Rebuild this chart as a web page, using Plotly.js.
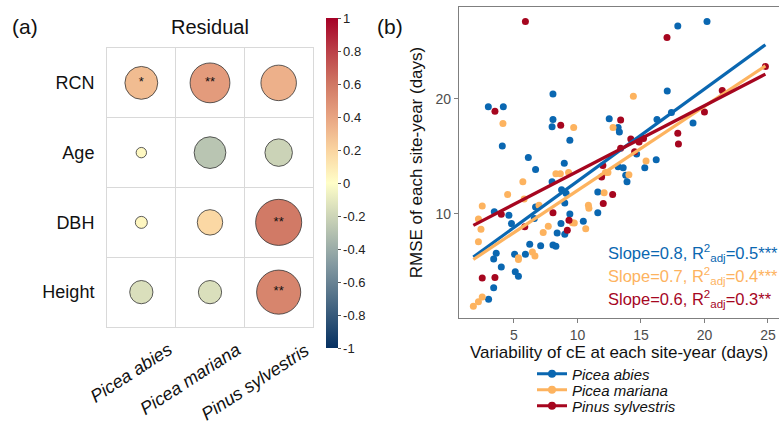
<!DOCTYPE html>
<html>
<head>
<meta charset="utf-8">
<script src="https://cdn.plot.ly/plotly-3.0.1.min.js"></script>
<style>html,body{margin:0;padding:0;background:#fff;}#chart{width:779px;height:424px;}</style>
</head>
<body>
<div id="chart"></div>
<script>
// ---------- Panel (a) data ----------
const rowLabels = ['RCN', 'Age', 'DBH', 'Height'];
const species = ['Picea abies', 'Picea mariana', 'Pinus sylvestris'];
const corrRCN    = [0.30, 0.44, 0.35];
const corrAge    = [0.03, -0.28, -0.21];
const corrDBH    = [0.04, 0.18, 0.59];
const corrHeight = [-0.15, -0.15, 0.54];
const sigRCN    = ['*', '**', ''];
const sigAge    = ['', '', ''];
const sigDBH    = ['', '', '**'];
const sigHeight = ['', '', '**'];
const colorbarTicks = [-1, -0.8, -0.6, -0.4, -0.2, 0, 0.2, 0.4, 0.6, 0.8, 1];

// ---------- Panel (b) data ----------
const abiesX = [2.98, 4.16, 4.08, 8.07, 8.07, 8.0, 9.4, 6.13, 6.7, 8.96, 12.5, 13.2, 13.3, 16.26, 17.4, 17.07, 17.9, 20.2, 19.1, 14.66, 16.2, 15.3, 13.2, 13.6, 13.8, 13.9, 11.6, 11.6, 10.46, 9.0, 9.4, 9.0, 8.0, 8.75, 8.7, 8.4, 8.07, 8.3, 7.1, 6.24, 5.9, 5.05, 6.7, 6.6, 4.8, 4.6, 3.45, 3.6, 3.4, 4.0, 5.1, 5.35, 3.4, 3.0, 9.1];
const abiesY = [19.3, 19.3, 15.9, 20.4, 18.2, 17.57, 16.4, 14.9, 13.85, 14.4, 18.25, 17.5, 17.1, 18.2, 18.8, 20.67, 26.3, 26.7, 17.9, 15.2, 14.7, 14.0, 14.1, 14.0, 13.35, 12.8, 11.9, 10.1, 9.37, 10.95, 10.0, 8.24, 12.8, 12.1, 9.17, 8.35, 7.3, 7.2, 7.25, 7.37, 6.5, 6.5, 10.6, 9.6, 9.17, 9.9, 10.2, 6.6, 6.1, 5.4, 5.0, 4.6, 3.6, 2.6, 11.8];
const marianaX = [4.13, 9.7, 12.8, 14.4, 15.4, 14.05, 12.2, 12.4, 12.1, 10.86, 10.9, 10.65, 9.6, 9.75, 8.3, 8.65, 9.3, 5.7, 4.5, 5.8, 6.97, 7.7, 7.3, 6.45, 6.65, 5.35, 5.35, 2.5, 2.2, 2.4, 2.2, 2.5, 2.2, 1.8];
const marianaY = [17.85, 17.5, 17.5, 20.2, 14.6, 13.4, 13.6, 13.6, 11.85, 10.75, 10.5, 8.73, 9.25, 9.22, 13.5, 13.5, 13.6, 12.8, 11.7, 11.3, 10.75, 8.93, 8.4, 6.7, 6.35, 6.2, 6.05, 10.7, 9.57, 8.67, 7.6, 2.8, 2.4, 2.0];
const sylvestrisX = [5.9, 17.05, 24.8, 21.4, 20.0, 17.9, 17.95, 3.5, 8.68, 13.4, 14.2, 14.85, 15.2, 14.5, 13.4, 12.0, 11.9, 12.77, 12.03, 9.33, 9.2, 8.07, 5.85, 4.0, 2.5, 3.5];
const sylvestrisY = [26.7, 25.3, 22.8, 20.7, 18.85, 17.0, 16.07, 18.9, 17.7, 18.15, 16.5, 16.25, 16.55, 15.4, 15.7, 14.2, 13.2, 11.7, 10.9, 9.45, 8.6, 10.1, 8.9, 9.97, 4.45, 4.5];
const fitSlope = [0.8, 0.73, 0.57];
const fitIntercept = [4.83, 4.74, 7.99];
const statSlope = ['0.8', '0.7', '0.6'];
const statR2 = ['0.5', '0.4', '0.3'];
const statSig = ['***', '***', '**'];
const xTicks = [5, 10, 15, 20, 25];
const yTicks = [10, 20];

// ---------- styling ----------
const W = 779, H = 424;
const FONT = 'Liberation Sans, Arial, sans-serif';
const speciesColors = ['#0A67B1', '#FDB35F', '#A6061F'];
const px = v => v / W;
const py = v => 1 - v / H;

const corrRows = [corrRCN, corrAge, corrDBH, corrHeight];
const sigRows = [sigRCN, sigAge, sigDBH, sigHeight];
const cx = [], cy = [], cv = [], cs = [];
const tx = [], ty = [], tt = [];
rowLabels.forEach((r, i) => species.forEach((s, j) => {
  cx.push(s); cy.push(r); cv.push(corrRows[i][j]);
  cs.push(60 * Math.sqrt(Math.abs(corrRows[i][j])));
  if (sigRows[i][j]) { tx.push(s); ty.push(r); tt.push(sigRows[i][j]); }
}));

const corrScale = [
  [0, '#053061'], [0.25, '#8298A0'], [0.5, '#FFFEC8'],
  [0.6, '#FAD4A0'], [0.7, '#E8A482'], [0.8, '#D07864'], [0.9, '#BB4048'], [1, '#A50026']
];

const traces = [];
traces.push({
  type: 'scatter', mode: 'markers', x: cx, y: cy, xaxis: 'x2', yaxis: 'y2',
  showlegend: false, hoverinfo: 'skip', cliponaxis: false,
  marker: {
    size: cs, color: cv, cmin: -1, cmax: 1, colorscale: corrScale, opacity: 1,
    line: {color: '#333333', width: 0.8},
    showscale: true,
    colorbar: {
      x: px(326), xanchor: 'left', xpad: 0, y: py(18), yanchor: 'top', ypad: 0,
      len: 330, lenmode: 'pixels', thickness: 12, thicknessmode: 'pixels',
      tickvals: colorbarTicks, ticktext: colorbarTicks.map(String),
      ticks: 'outside', ticklen: 3, tickcolor: '#555', outlinewidth: 0,
      tickfont: {family: FONT, size: 13, color: '#222'}
    }
  }
});
traces.push({
  type: 'scatter', mode: 'text', x: tx, y: ty, text: tt, xaxis: 'x2', yaxis: 'y2',
  showlegend: false, hoverinfo: 'skip', textposition: 'middle center',
  textfont: {family: FONT, size: 13, color: '#111'}
});

const allX = abiesX.concat(marianaX, sylvestrisX);
const xMin = Math.min(...allX), xMax = Math.max(...allX);
const sets = [[abiesX, abiesY], [marianaX, marianaY], [sylvestrisX, sylvestrisY]];
sets.forEach((d, k) => {
  traces.push({
    type: 'scatter', mode: 'markers', x: d[0], y: d[1], showlegend: false, hoverinfo: 'skip',
    marker: {size: 7, color: speciesColors[k]}
  });
});
sets.forEach((d, k) => {
  traces.push({
    type: 'scatter', mode: 'lines', x: [xMin, xMax],
    y: [fitIntercept[k] + fitSlope[k] * xMin, fitIntercept[k] + fitSlope[k] * xMax],
    showlegend: false, hoverinfo: 'skip',
    line: {color: speciesColors[k], width: 3.2}
  });
});
const legendIds = ['legend', 'legend2', 'legend3'];
species.forEach((s, k) => {
  traces.push({
    type: 'scatter', mode: 'lines+markers', x: [null], y: [null], name: s,
    legend: legendIds[k], showlegend: true,
    line: {color: speciesColors[k], width: 3.2}, marker: {size: 8, color: speciesColors[k]}
  });
});

const legendBase = {
  xanchor: 'left', yanchor: 'middle', bgcolor: 'rgba(0,0,0,0)', borderwidth: 0,
  font: {family: FONT, size: 15, style: 'italic', color: '#111'}, itemwidth: 30
};
const legendRowsY = [374, 390, 406];

const annotations = [
  {text: '(a)', xref: 'paper', yref: 'paper', x: px(10), y: py(27), xanchor: 'left', yanchor: 'middle', showarrow: false, font: {family: FONT, size: 21, color: '#111'}},
  {text: '(b)', xref: 'paper', yref: 'paper', x: px(375), y: py(27), xanchor: 'left', yanchor: 'middle', showarrow: false, font: {family: FONT, size: 21, color: '#111'}},
  {text: 'Residual', xref: 'paper', yref: 'paper', x: px(210), y: py(27), xanchor: 'center', yanchor: 'middle', showarrow: false, font: {family: FONT, size: 20, color: '#111'}}
];
// rotated species labels under panel (a), placed on the category axis
species.forEach(s => {
  annotations.push({
    text: s, xref: 'x2', yref: 'paper', x: s, y: py(337), xanchor: 'right', yanchor: 'top',
    xshift: 37, textangle: -33, showarrow: false,
    font: {family: FONT, size: 18, style: 'italic', color: '#111'}
  });
});
const statY = [253, 276, 299];
species.forEach((s, k) => {
  annotations.push({
    text: 'Slope=' + statSlope[k] + ', R<sup>2</sup><sub>adj</sub>=' + statR2[k] + statSig[k],
    xref: 'paper', yref: 'paper', x: px(606), y: py(statY[k]), xanchor: 'left', yanchor: 'middle',
    showarrow: false, font: {family: FONT, size: 16.5, color: speciesColors[k]}
  });
});

const layout = {
  width: W, height: H, margin: {l: 0, r: 0, t: 0, b: 0},
  paper_bgcolor: '#ffffff', plot_bgcolor: '#ffffff',
  font: {family: FONT},
  xaxis: {
    domain: [px(459), 1], range: [0.67, 25.87], tickvals: xTicks, anchor: 'y',
    ticks: 'outside', ticklen: 4, tickcolor: '#7f7f7f', showline: true, linecolor: '#7f7f7f', linewidth: 1.2, mirror: true,
    showgrid: false, zeroline: false, tickfont: {family: FONT, size: 14, color: '#4d4d4d'},
    title: {text: 'Variability of cE at each site-year (days)', font: {family: FONT, size: 17, color: '#111'}, standoff: 1}
  },
  yaxis: {
    domain: [py(318), py(7)], range: [0.98, 27.95], tickvals: yTicks, anchor: 'x',
    ticks: 'outside', ticklen: 4, tickcolor: '#7f7f7f', showline: true, linecolor: '#7f7f7f', linewidth: 1.2,
    showgrid: false, zeroline: false, tickfont: {family: FONT, size: 14, color: '#4d4d4d'},
    title: {text: 'RMSE of each site-year (days)', font: {family: FONT, size: 17, color: '#111'}, standoff: 8}
  },
  xaxis2: {
    domain: [px(107), px(313)], type: 'category', categoryorder: 'array', categoryarray: species, anchor: 'y2',
    range: [-0.5, 2.5], tickson: 'boundaries', showgrid: true, gridcolor: '#d9d9d9', gridwidth: 1,
    showline: true, linecolor: '#d9d9d9', mirror: true, ticks: '', showticklabels: false, zeroline: false
  },
  yaxis2: {
    domain: [py(327), py(48)], type: 'category', categoryorder: 'array', categoryarray: rowLabels, anchor: 'x2',
    range: [3.5, -0.5], tickson: 'boundaries', showgrid: true, gridcolor: '#d9d9d9', gridwidth: 1,
    showline: true, linecolor: '#d9d9d9', mirror: true, ticks: '',
    tickfont: {family: FONT, size: 18, color: '#111'}, ticklabelstandoff: 8, zeroline: false
  },
  showlegend: true,
  annotations: annotations
};
legendIds.forEach((id, k) => {
  layout[id] = Object.assign({}, legendBase, {x: px(532), y: py(legendRowsY[k])});
});

Plotly.newPlot('chart', traces, layout, {staticPlot: true, displayModeBar: false});
</script>
</body>
</html>
